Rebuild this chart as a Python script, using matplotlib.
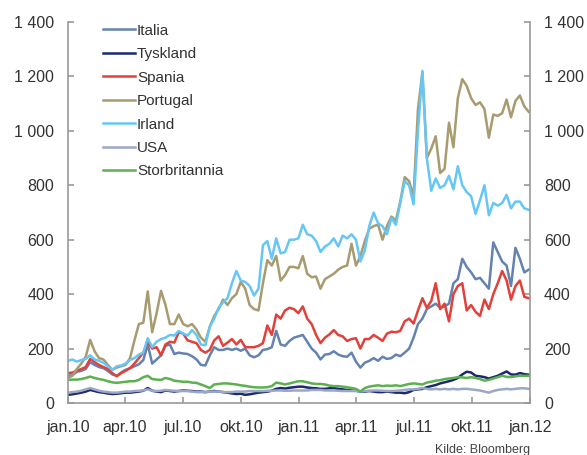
import pandas as pd
import numpy as np
import matplotlib.pyplot as plt
import matplotlib.ticker as mticker

plt.rcParams['font.family'] = ['Liberation Sans', 'DejaVu Sans']

# ukentlige observasjoner, jan.10 - jan.12
dates = pd.date_range('2010-01-01', periods=105, freq='7D')

italia = [100, 102, 115, 118, 125, 150, 140, 132, 128, 118, 105, 100, 112, 122,
          128, 135, 142, 158, 215, 145, 160, 175, 210, 215, 180, 185, 182,
          180, 172, 160, 140, 138, 175, 205, 195, 195, 200, 195, 200, 192,
          200, 175, 168, 175, 195, 198, 205, 265, 215, 210, 228, 240, 245,
          250, 225, 200, 185, 160, 178, 180, 190, 178, 172, 170, 185, 152,
          130, 148, 155, 165, 155, 170, 162, 165, 178, 172, 185, 200, 240,
          290, 310, 345, 355, 365, 350, 355, 365, 440, 455, 530, 500, 480,
          455, 460, 440, 420, 590, 555, 520, 505, 430, 570, 530, 480, 490]

tyskland = [30, 32, 35, 38, 42, 48, 44, 40, 38, 35, 33, 34, 36, 38,
            38, 40, 42, 45, 55, 45, 42, 40, 46, 44, 42, 44, 46,
            45, 44, 42, 42, 40, 42, 44, 42, 40, 38, 35, 33, 34,
            30, 32, 35, 38, 40, 42, 45, 52, 55, 53, 56, 58, 60,
            60, 57, 55, 54, 52, 52, 54, 55, 52, 50, 48, 46, 45,
            42, 42, 44, 42, 40, 40, 42, 40, 38, 38, 36, 40, 48,
            50, 52, 58, 62, 66, 72, 76, 80, 85, 92, 105, 115, 112,
            100, 98, 95, 90, 95, 100, 108, 116, 105, 104, 110, 106, 104]

spania = [110, 112, 118, 125, 132, 162, 150, 140, 132, 125, 110, 98, 110, 118,
          128, 145, 165, 185, 225, 200, 205, 175, 215, 225, 222, 260, 255,
          230, 225, 220, 195, 185, 195, 230, 245, 210, 222, 235, 215, 232,
          205, 205, 205, 210, 220, 285, 250, 325, 310, 340, 350, 345, 330,
          355, 310, 290, 250, 220, 240, 252, 268, 250, 245, 228, 235, 238,
          200, 235, 235, 250, 240, 228, 255, 262, 260, 265, 300, 310, 292,
          340, 385, 350, 375, 440, 345, 365, 300, 400, 430, 440, 340, 360,
          335, 320, 380, 345, 400, 440, 485, 450, 380, 430, 450, 390, 385]

portugal = [93, 100, 125, 145, 170, 232, 190, 165, 160, 140, 122, 130, 135, 140,
            165, 230, 290, 295, 410, 260, 330, 412, 360, 290, 290, 325, 290,
            282, 290, 270, 240, 225, 280, 320, 345, 380, 360, 385, 400, 445,
            420, 360, 345, 340, 440, 525, 505, 540, 450, 470, 500, 500, 495,
            540, 475, 462, 465, 420, 455, 465, 475, 490, 500, 505, 585, 505,
            540, 595, 640, 650, 655, 600, 650, 685, 670, 740, 830, 815, 760,
            1080, 1215, 900, 935, 980, 845, 860, 1030, 940, 1120, 1190, 1165, 1120,
            1095, 1105, 1080, 975, 1060, 1055, 1065, 1115, 1050, 1110, 1130, 1090, 1070]

irland = [155, 160, 152, 158, 162, 175, 160, 155, 148, 135, 122, 135, 138, 145,
          158, 165, 178, 185, 238, 205, 225, 235, 240, 250, 248, 265, 255,
          248, 268, 250, 215, 212, 280, 310, 350, 370, 385, 440, 485, 450,
          445, 430, 395, 420, 580, 595, 530, 605, 550, 555, 600, 600, 605,
          655, 620, 615, 595, 555, 575, 585, 605, 575, 615, 605, 620, 600,
          520, 560, 650, 700, 660, 650, 620, 680, 655, 735, 815, 800, 730,
          1000, 1220, 900, 780, 825, 790, 800, 835, 785, 870, 800, 775, 760,
          695, 745, 800, 690, 735, 725, 735, 765, 715, 740, 740, 715, 710]

usa = [38, 40, 42, 45, 50, 55, 50, 45, 42, 40, 38, 38, 40, 42,
       42, 44, 45, 46, 50, 45, 44, 45, 48, 46, 45, 44, 44,
       44, 42, 40, 40, 40, 42, 42, 42, 40, 40, 40, 42, 42,
       42, 44, 44, 44, 44, 45, 45, 46, 46, 45, 45, 46, 46,
       46, 46, 48, 48, 48, 46, 46, 46, 45, 44, 44, 44, 44,
       42, 44, 45, 46, 46, 45, 44, 44, 45, 46, 48, 50, 50,
       52, 55, 52, 50, 52, 50, 52, 50, 52, 50, 52, 52, 50,
       48, 46, 42, 38, 44, 48, 50, 52, 50, 52, 54, 54, 52]

storbritannia = [85, 86, 86, 88, 92, 97, 92, 88, 85, 80, 76, 74, 76, 78,
                 80, 80, 85, 95, 100, 88, 86, 85, 92, 88, 82, 80, 78,
                 78, 75, 74, 68, 62, 55, 68, 70, 72, 72, 70, 68, 65,
                 63, 60, 58, 57, 57, 58, 62, 75, 72, 68, 72, 76, 80,
                 80, 76, 72, 70, 70, 68, 64, 62, 62, 60, 58, 55, 52,
                 42, 55, 60, 63, 65, 62, 64, 63, 65, 62, 66, 70, 72,
                 70, 68, 75, 78, 82, 84, 88, 90, 92, 95, 94, 92, 95,
                 92, 88, 82, 85, 90, 95, 100, 96, 95, 98, 100, 100, 100]

series = [('Italia', italia, '#6483b0'),
          ('Tyskland', tyskland, '#1b2a6e'),
          ('Spania', spania, '#e2413b'),
          ('Portugal', portugal, '#a89b6f'),
          ('Irland', irland, '#66c6f6'),
          ('USA', usa, '#9ca7c8'),
          ('Storbritannia', storbritannia, '#5cb04f')]

tick_dates = pd.date_range('2010-01-01', '2012-01-01', freq='QS')
mnd = {1: 'jan', 4: 'apr', 7: 'jul', 10: 'okt'}
tick_labels = [f"{mnd[d.month]}.{d.strftime('%y')}" for d in tick_dates]

fig = plt.figure(figsize=(5.87, 4.55), dpi=100)
ax = fig.add_axes([68 / 587, 1 - 403 / 455, 462 / 587, 381 / 455])

for name, vals, col in series:
    ax.plot(dates, vals, color=col, lw=1.8, label=name)

ax.set_xlim(pd.Timestamp('2010-01-01'), pd.Timestamp('2012-01-01'))
ax.set_ylim(0, 1400)
ax.set_yticks(np.arange(0, 1401, 200))
ax.yaxis.set_major_formatter(mticker.FuncFormatter(lambda v, p: f"{int(v):,}".replace(',', ' ')))
ax.set_xticks(tick_dates)
ax.set_xticklabels(tick_labels)

for s in ['left', 'right', 'bottom']:
    ax.spines[s].set_color('#999999')
    ax.spines[s].set_linewidth(1.2)
ax.spines['top'].set_visible(False)
ax.tick_params(axis='both', direction='in', length=4, width=1.2, color='#999999',
               labelsize=11.5, labelcolor='#333333', pad=10)
ax.tick_params(axis='x', pad=12)
ax.tick_params(axis='y', right=True, labelright=True)

ax.legend(loc='upper left', bbox_to_anchor=(95 / 587, 1 - 16 / 455), bbox_transform=fig.transFigure,
          frameon=False, fontsize=11, handlelength=2.1, handletextpad=0.15,
          labelspacing=0.62, borderpad=0, labelcolor='#333333')

fig.text(530 / 587, 1 - 444 / 455, 'Kilde: Bloomberg', ha='right', va='top', fontsize=9, color='#444444')

fig.savefig('out.png', dpi=100)
